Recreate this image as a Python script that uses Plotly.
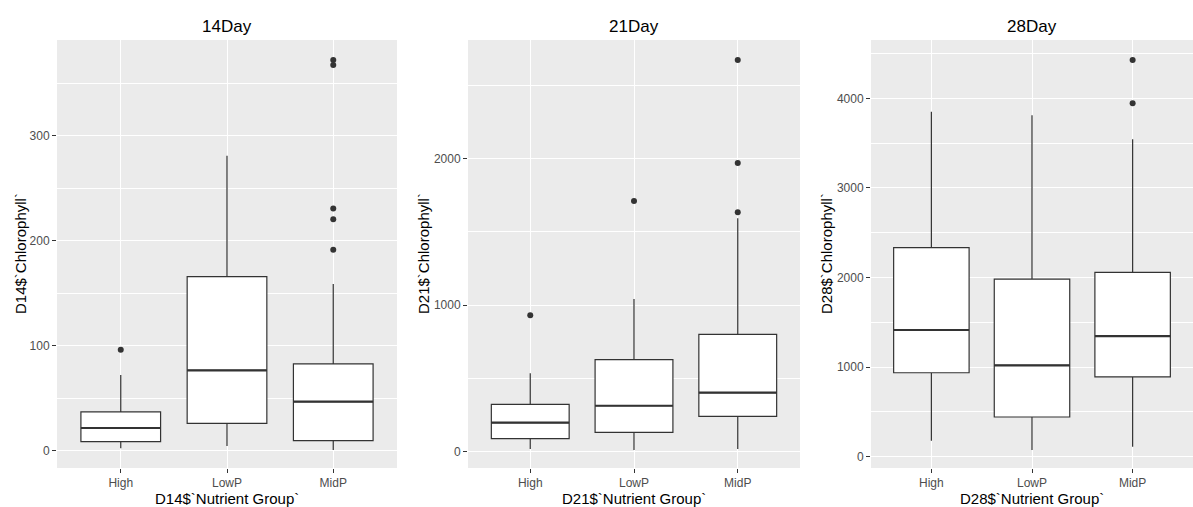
import plotly.graph_objects as go

groups = ["High", "LowP", "MidP"]

# Day 14
d14_low = [2.3, 4.5, 0.7]
d14_q1 = [8.6, 26, 9.5]
d14_med = [21.6, 76.5, 46.7]
d14_q3 = [37, 165.7, 82.6]
d14_up = [72, 280.7, 158.8]
d14_out_x = ["High", "MidP", "MidP", "MidP", "MidP", "MidP"]
d14_out_y = [96, 191.4, 220.4, 230.5, 367.3, 372]

# Day 21
d21_low = [18, 11.6, 18]
d21_q1 = [89, 132, 241.6]
d21_med = [198, 314, 403]
d21_q3 = [323.5, 628, 801]
d21_up = [535, 1042, 1593]
d21_out_x = ["High", "LowP", "MidP", "MidP", "MidP"]
d21_out_y = [931, 1711, 1634, 1971, 2674]

# Day 28
d28_low = [178.6, 75, 112]
d28_q1 = [937, 443, 890]
d28_med = [1414, 1020, 1347]
d28_q3 = [2333, 1983, 2058]
d28_up = [3850, 3810, 3542]
d28_out_x = ["MidP", "MidP"]
d28_out_y = [3944, 4427]

titles = ["14Day", "21Day", "28Day"]
ytitles = ["D14$`Chlorophyll`", "D21$`Chlorophyll`", "D28$`Chlorophyll`"]
xtitles = ["D14$`Nutrient Group`", "D21$`Nutrient Group`", "D28$`Nutrient Group`"]
yranges = [[-16.5, 391], [-111, 2810], [-126, 4651]]
dticks = [100, 1000, 1000]

W, H = 1193, 507
ML, MR, MT, MB = 57, 0, 40, 39
PW = W - ML - MR
PH = H - MT - MB
px_domains = [(57, 397), (468, 800), (871, 1193)]
domains = [((a - ML) / PW, (b - ML) / PW) for a, b in px_domains]

data = [
    (d14_low, d14_q1, d14_med, d14_q3, d14_up, d14_out_x, d14_out_y),
    (d21_low, d21_q1, d21_med, d21_q3, d21_up, d21_out_x, d21_out_y),
    (d28_low, d28_q1, d28_med, d28_q3, d28_up, d28_out_x, d28_out_y),
]

DARK = "#333333"
BOXW = 0.75
fig = go.Figure()
font = "Liberation Sans, Arial, sans-serif"

for i, (lo, q1, med, q3, up, ox, oy) in enumerate(data):
    xa = "x" if i == 0 else f"x{i+1}"
    ya = "y" if i == 0 else f"y{i+1}"
    fig.add_trace(go.Box(
        x=groups, q1=q1, median=med, q3=q3, lowerfence=lo, upperfence=up,
        xaxis=xa, yaxis=ya, width=BOXW, whiskerwidth=0,
        fillcolor="white", line=dict(color=DARK, width=1.2),
        boxpoints=False, showlegend=False, hoverinfo="skip",
    ))
    # thicker median line (ggplot style)
    a, b = px_domains[i]
    unit_px = (b - a) / 3.2
    msize = BOXW * unit_px / 1.4
    fig.add_trace(go.Scatter(
        x=groups, y=med, mode="markers", xaxis=xa, yaxis=ya,
        marker=dict(symbol="line-ew", size=msize, line=dict(color=DARK, width=2.2)),
        showlegend=False, hoverinfo="skip",
    ))
    fig.add_trace(go.Scatter(
        x=ox, y=oy, mode="markers", xaxis=xa, yaxis=ya,
        marker=dict(color=DARK, size=6), showlegend=False, hoverinfo="skip",
    ))

layout = dict(
    width=W, height=H, autosize=False,
    margin=dict(l=ML, r=MR, t=MT, b=MB, autoexpand=False),
    paper_bgcolor="white", plot_bgcolor="#EBEBEB",
    font=dict(family=font),
    annotations=[],
)

for i in range(3):
    xk = "xaxis" if i == 0 else f"xaxis{i+1}"
    yk = "yaxis" if i == 0 else f"yaxis{i+1}"
    ya = "y" if i == 0 else f"y{i+1}"
    xa = "x" if i == 0 else f"x{i+1}"
    layout[xk] = dict(
        domain=list(domains[i]), anchor=ya, type="category",
        categoryorder="array", categoryarray=groups,
        range=[-0.6, 2.6], showgrid=True, gridcolor="white", gridwidth=1.1,
        ticks="outside", ticklen=4, tickcolor=DARK, tickwidth=1,
        tickfont=dict(size=12, color="#4D4D4D", family=font),
        showline=False, zeroline=False,
    )
    layout[yk] = dict(
        domain=[0, 1], anchor=xa, range=yranges[i],
        dtick=dticks[i], tick0=0,
        showgrid=True, gridcolor="white", gridwidth=1.1,
        minor=dict(dtick=dticks[i] / 2, tick0=0, showgrid=True,
                   gridcolor="white", gridwidth=0.55),
        ticks="outside", ticklen=4, tickcolor=DARK, tickwidth=1,
        tickfont=dict(size=12, color="#4D4D4D", family=font),
        showline=False, zeroline=False,
    )
    a, b = px_domains[i]
    cx = ((a + b) / 2 - ML) / PW
    layout["annotations"].append(dict(
        text=titles[i], x=cx, y=(H - MB - 27) / PH, xref="paper", yref="paper",
        showarrow=False, font=dict(size=17, color="black", family=font),
        xanchor="center", yanchor="middle",
    ))
    layout["annotations"].append(dict(
        text=xtitles[i], x=cx, y=(H - MB - 498) / PH,
        xref="paper", yref="paper",
        showarrow=False, font=dict(size=15, color="black", family=font),
        xanchor="center", yanchor="middle",
    ))

ycenters_px = [20, 423, 826]
for i in range(3):
    layout["annotations"].append(dict(
        text=ytitles[i], x=(ycenters_px[i] - ML) / PW, y=0.5, xref="paper", yref="paper",
        showarrow=False, textangle=-90, font=dict(size=15, color="black", family=font),
        xanchor="center", yanchor="middle",
    ))

fig.update_layout(**layout)
fig.write_html(
    "out.html",
    config={"displayModeBar": False},
    post_script="document.body.style.margin='0';document.body.style.overflow='hidden';",
)
